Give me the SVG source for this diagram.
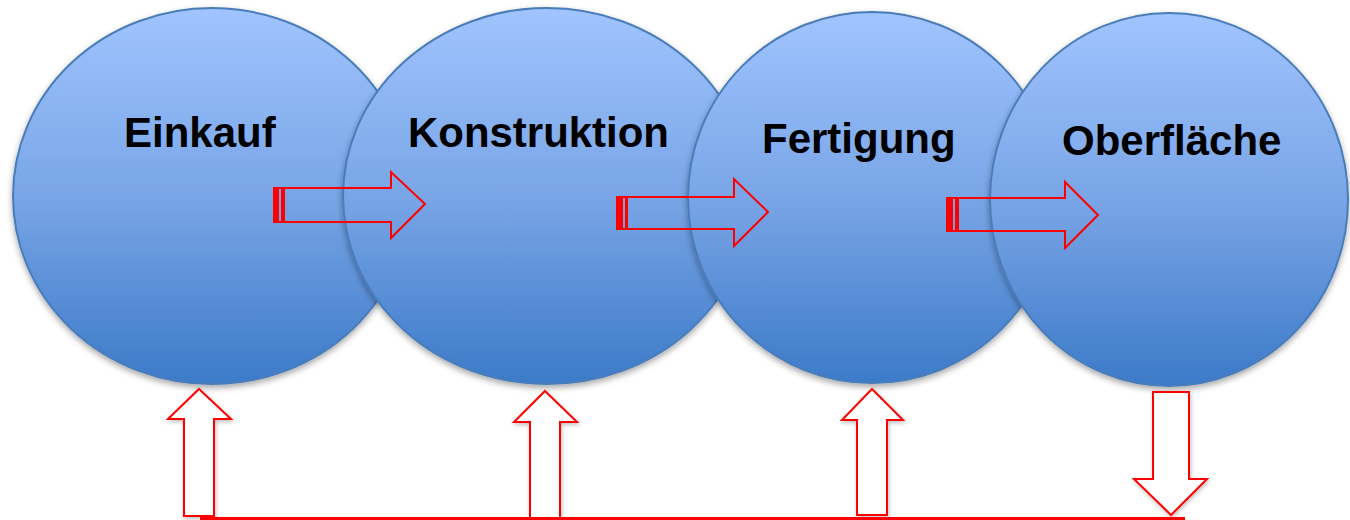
<svg xmlns="http://www.w3.org/2000/svg" width="1350" height="520" viewBox="0 0 1350 520">
<defs>
<linearGradient id="blue" x1="0" y1="0" x2="0" y2="1">
<stop offset="0" stop-color="#A0C4FF"/>
<stop offset="0.5" stop-color="#79A5E6"/>
<stop offset="1" stop-color="#3C7AC8"/>
</linearGradient>
<filter id="sh" x="-10%" y="-10%" width="120%" height="125%">
<feDropShadow dx="0" dy="3" stdDeviation="3" flood-color="#000" flood-opacity="0.35"/>
</filter>
<filter id="ash" x="-30%" y="-10%" width="160%" height="130%">
<feDropShadow dx="1" dy="2" stdDeviation="2" flood-color="#000" flood-opacity="0.25"/>
</filter>
</defs>
<style>
.circ{fill:url(#blue);stroke:#4A7DBA;stroke-width:2;filter:url(#sh)}
.lbl{font-family:"Liberation Sans",Arial,sans-serif;font-weight:bold;font-size:42px;fill:#000}
.arr{fill:none;stroke:#FF0000;stroke-width:2;stroke-linejoin:miter}
.varr{fill:#FFFFFF;stroke:#FF0000;stroke-width:2;filter:url(#ash)}
.bar{fill:#FF0000}
</style>
<g id="einkauf">
<ellipse class="circ" cx="212" cy="196" rx="199" ry="188"/>
<text class="lbl" x="124" y="147">Einkauf</text>
</g>
<g id="konstruktion">
<ellipse class="circ" cx="547" cy="196" rx="204" ry="188"/>
<text class="lbl" x="408" y="147" textLength="261" lengthAdjust="spacingAndGlyphs">Konstruktion</text>
</g>
<g id="fertigung">
<ellipse class="circ" cx="872" cy="197.5" rx="184" ry="185.5"/>
<text class="lbl" x="762" y="153">Fertigung</text>
</g>
<g id="oberflaeche">
<ellipse class="circ" cx="1169" cy="199.5" rx="179" ry="186.5"/>
<text class="lbl" x="1062" y="155">Oberfläche</text>
</g>
<g id="connectors">
<!-- horizontal arrows -->
<polygon class="arr" points="274,188 391,188 391,172 425,204 391,238 391,222 274,222"/>
<rect class="bar" x="273" y="188" width="6" height="34"/>
<rect class="bar" x="281" y="188" width="4" height="34"/>
<polygon class="arr" points="617,197 734,197 734,179 768,212 734,246 734,229 617,229"/>
<rect class="bar" x="616" y="197" width="7" height="32"/>
<rect class="bar" x="625" y="197" width="3" height="32"/>
<polygon class="arr" points="947,198 1065,198 1065,182 1098,215 1065,248 1065,231 947,231"/>
<rect class="bar" x="946" y="198" width="7" height="33"/>
<rect class="bar" x="955" y="198" width="4" height="33"/>
<!-- vertical arrows -->
<polygon class="varr" points="199,389 231,419 214,419 214,516 184,516 184,419 168,419"/>
<polygon class="varr" points="545,391 577,422 560,422 560,520 530,520 530,422 514,422"/>
<polygon class="varr" points="872,389 903,420 887,420 887,515 857,515 857,420 842,420"/>
<polygon class="varr" points="1153,392 1189,392 1189,479 1207,479 1171,515 1134,479 1153,479"/>
<!-- base line -->
<line x1="200" y1="518.5" x2="1185" y2="518.5" stroke="#FF0000" stroke-width="3"/>
</g>
</svg>
